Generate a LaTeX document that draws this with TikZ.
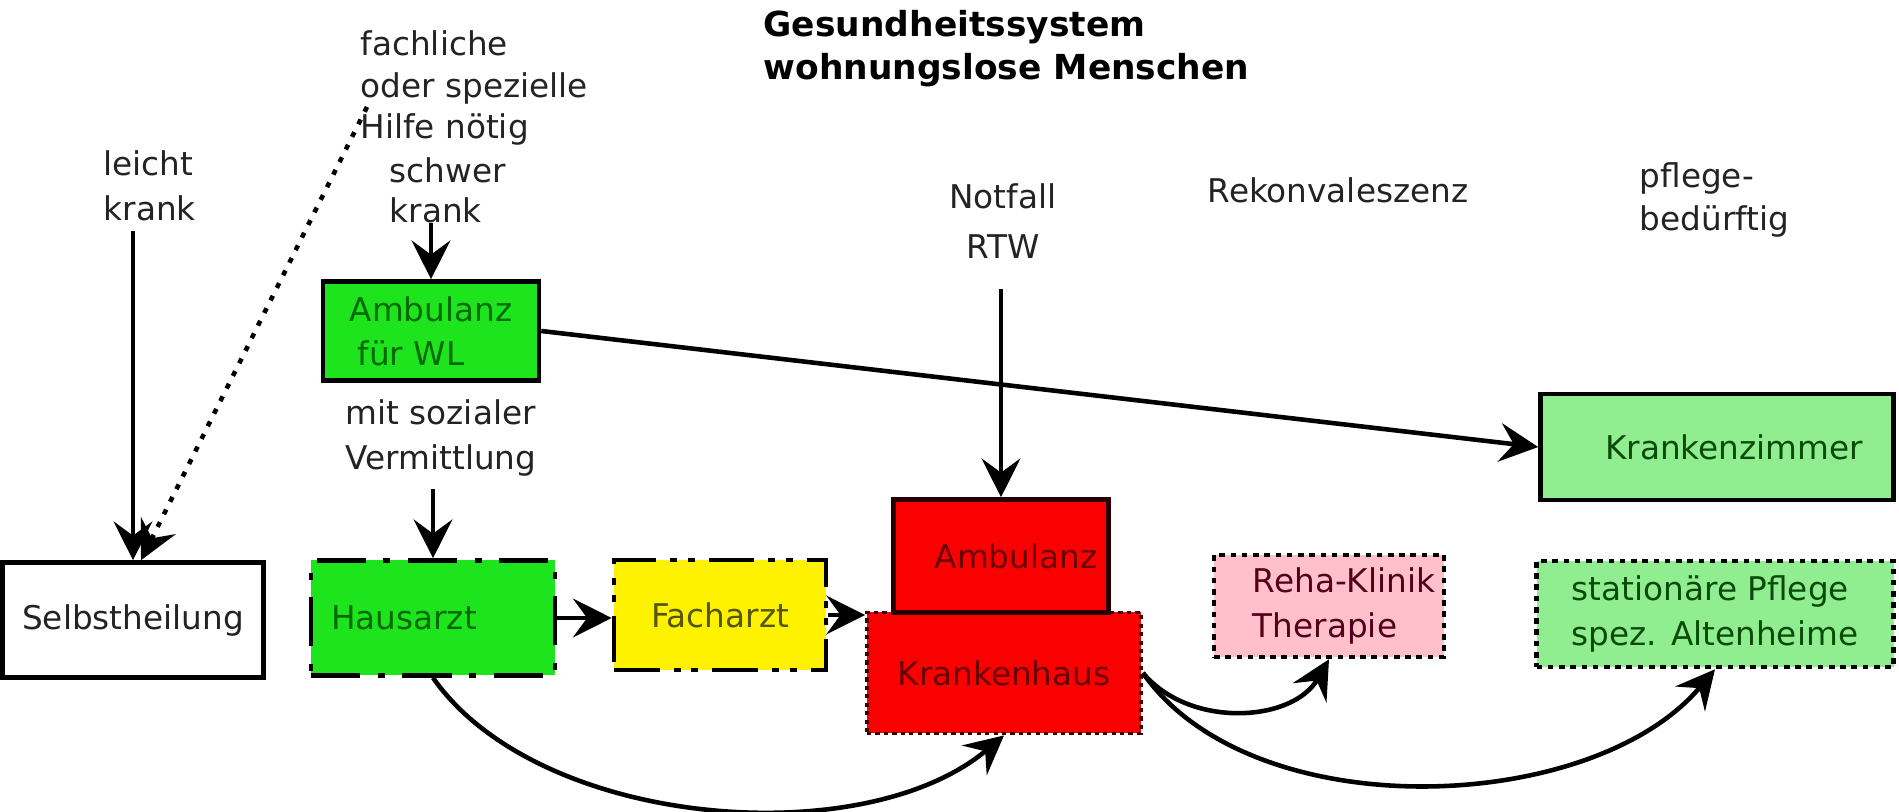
\documentclass[tikz,border=0pt]{standalone}
\usepackage{fontspec}
\setmainfont{DejaVu Sans}
\usepackage{tikz}
\usetikzlibrary{positioning}
\usetikzlibrary{calc,arrows.meta}

\definecolor{wlgreen}{RGB}{30,228,30}
\definecolor{paleGreen}{RGB}{144,238,144}
\definecolor{rehapink}{RGB}{255,192,203}
\definecolor{hospred}{RGB}{250,0,0}
\definecolor{txtgreen}{RGB}{0,105,0}
\definecolor{txtdeepgreen}{RGB}{10,75,10}
\definecolor{txtred}{RGB}{105,0,0}
\definecolor{txtolive}{RGB}{85,85,0}
\definecolor{txtmaroon}{RGB}{85,0,25}
\definecolor{txtgray}{RGB}{35,35,35}

\tikzset{
	every node/.style={font=\fontsize{9.3}{12.6}\selectfont, text=txtgray},
	lbl/.style={inner sep=0pt, align=left},
	box/.style={draw=black, line width=1.3pt, inner sep=0pt, align=left},
	plainbox/.style={box, fill=white, text=txtgray},
	wlbox/.style={box, fill=wlgreen, text=txtgreen},
	gpbox/.style={box, fill=wlgreen, text=txtgreen,
		dash pattern=on 14pt off 5pt on 2pt off 5pt},
	specbox/.style={box, fill=yellow, text=txtolive,
		dash pattern=on 13pt off 4pt on 2pt off 3pt on 2pt off 4pt},
	erbox/.style={box, fill=hospred, text=txtred, draw=black!85!red},
	hospbox/.style={box, fill=hospred, text=txtred, draw=black!75!red,
		line width=1.1pt, dash pattern=on 1.2pt off 1.2pt},
	roombox/.style={box, fill=paleGreen, text=txtdeepgreen},
	rehabox/.style={box, fill=rehapink, text=txtmaroon,
		dash pattern=on 1.6pt off 1.6pt},
	carebox/.style={box, fill=paleGreen, text=txtdeepgreen,
		dash pattern=on 1.6pt off 1.6pt},
	arr/.style={line width=1.3pt, draw=black,
		-{Stealth[length=11pt,width=11pt,inset=4pt]}},
	dotarr/.style={arr, dash pattern=on 1.5pt off 2.5pt},
}

\begin{document}
\begin{tikzpicture}
	
	\useasboundingbox (0,0) rectangle (18.99cm,-8.12cm);
	
	% Title and the free labels above the boxes
	
	\node[lbl, anchor=west, text=black, font=\fontsize{9.8}{12.2}\selectfont\bfseries]
		(T) at (7.63cm,-0.49cm) {Gesundheitssystem\\wohnungslose Menschen};
	
	\node[lbl, anchor=west, font=\fontsize{9.3}{11.9}\selectfont]
		(FH) at (3.60cm,-0.88cm) {fachliche\\oder spezielle\\Hilfe nötig};
	\node[lbl, anchor=west, font=\fontsize{9.3}{11.4}\selectfont]
		(SK) at (3.89cm,-1.90cm) {schwer\\krank};
	\node[lbl, anchor=west, font=\fontsize{9.3}{12.8}\selectfont]
		(LK) at (1.03cm,-1.86cm) {leicht\\krank};
	\node[lbl, align=center, font=\fontsize{9.3}{14.2}\selectfont]
		(NF) at (10.03cm,-2.21cm) {Notfall\\RTW};
	\node[lbl] (RE) at (13.38cm,-1.90cm) {Rekonvaleszenz};
	\node[lbl, anchor=west, font=\fontsize{9.3}{12.5}\selectfont]
		(PB) at (16.39cm,-2.00cm) {pflege-\\bedürftig};
	\node[lbl, anchor=west, font=\fontsize{9.3}{12.8}\selectfont]
		(SV) at (3.45cm,-4.38cm) {mit sozialer\\Vermittlung};
	
	% where the dotted hint leaves the text
	\coordinate (HINT) at (3.67cm,-1.07cm);
	
	%%%%%%%%%%%%%%%%%%%%%%%%%%%%%%%%%%%%%%%%%%%%%%%%%%%%%%%%%%%%%%
	% Boxes
	
	\node[plainbox, minimum width=2.61cm, minimum height=1.15cm]
		(SH) at (1.33cm,-6.20cm) {Selbstheilung};
	\node[wlbox, minimum width=2.16cm, minimum height=0.99cm]
		(AW) at (4.31cm,-3.31cm) {Ambulanz\\\hspace*{0.08cm}für WL};
	\node[gpbox, minimum width=2.44cm, minimum height=1.15cm]
		(HA) at (4.33cm,-6.18cm) {Hausarzt\hspace*{0.58cm}};
	\node[specbox, minimum width=2.12cm, minimum height=1.10cm]
		(FA) at (7.20cm,-6.15cm) {Facharzt};
	
	% Krankenhaus first, the Ambulanz sits on top of it
	\node[hospbox, minimum width=2.74cm, minimum height=1.21cm]
		(KH) at (10.04cm,-6.73cm) {Krankenhaus};
	\node[erbox, minimum width=2.15cm, minimum height=1.13cm]
		(AN) at (10.01cm,-5.56cm) {\hspace*{0.3cm}Ambulanz};
	
	\node[roombox, minimum width=3.53cm, minimum height=1.06cm]
		(KZ) at (17.17cm,-4.47cm) {\hspace*{0.34cm}Krankenzimmer};
	\node[rehabox, minimum width=2.30cm, minimum height=1.02cm]
		(RH) at (13.29cm,-6.06cm) {\hspace*{0.3cm}Reha-Klinik\\\hspace*{0.3cm}Therapie};
	\node[carebox, minimum width=3.57cm, minimum height=1.06cm]
		(SP) at (17.15cm,-6.14cm) {stationäre Pflege\\spez. Altenheime};
	
	%%%%%%%%%%%%%%%%%%%%%%%%%%%%%%%%%%%%%%%%%%%%%%%%%%%%%%%%%%%%%%
	% Connectors
	
	\draw[arr] ([yshift=-2.5pt]SH.north |- LK.south) -- (SH.north);
	\draw[dotarr] (HINT) -- ([xshift=0.08cm]SH.north);
	\draw[arr] (AW.north |- SK.south) -- (AW.north);
	\draw[arr] ([yshift=-3.4pt]HA.north |- SV.south) -- (HA.north);
	\draw[arr] ([yshift=-0.3cm]AN.north |- NF.south) -- (AN.north);
	
	\draw[arr] (HA.east) -- (HA.east -| FA.west);
	\draw[arr] (FA.east) -- (FA.east -| KH.west);
	\draw[arr] (AW.east) -- (KZ.west);
	
	\draw[arr] (HA.south) to[out=-55, in=-140, looseness=0.82] (KH.south);
	\draw[arr] (KH.east) to[out=-50, in=-120] (RH.south);
	\draw[arr] (KH.east) to[out=-55, in=-130, looseness=0.85] (SP.south);
	
\end{tikzpicture}
\end{document}
